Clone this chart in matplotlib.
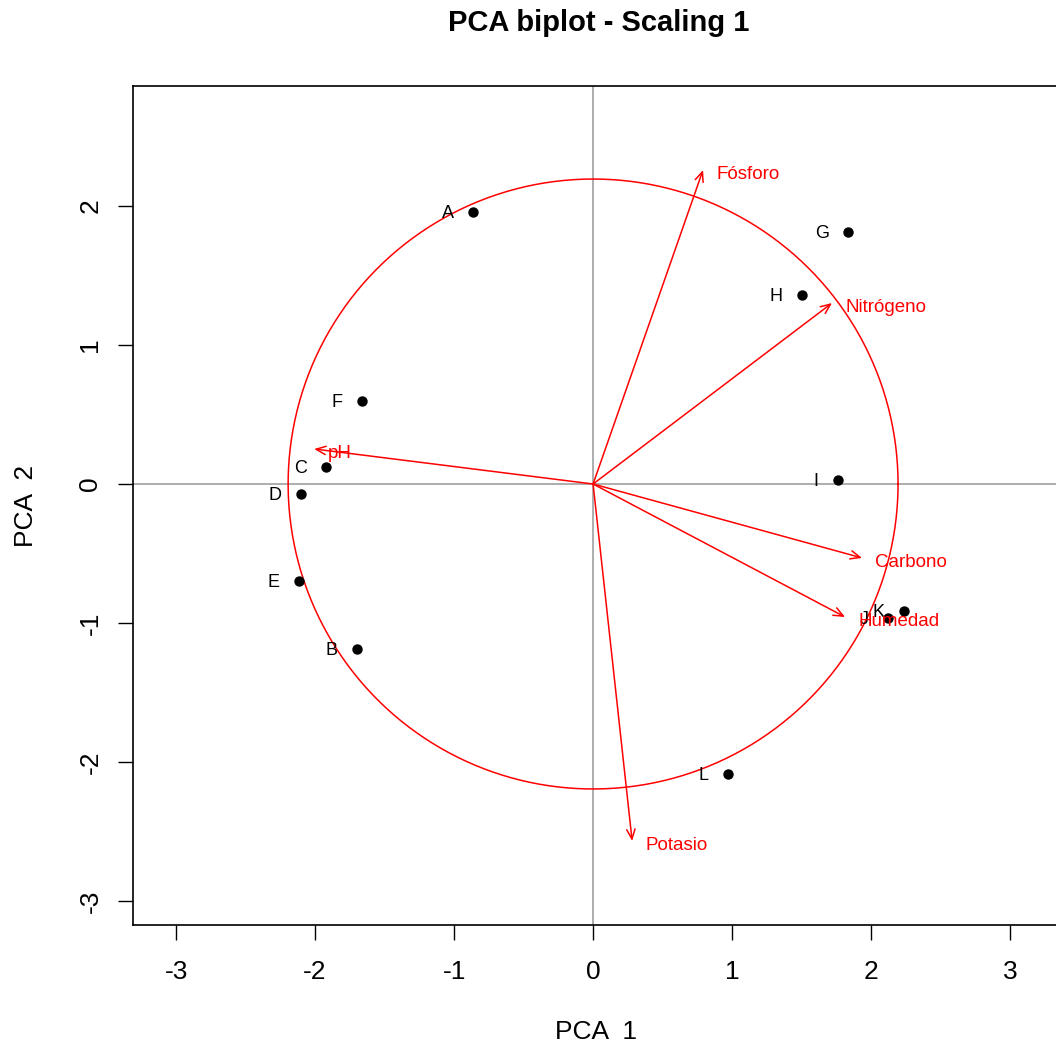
import numpy as np
import matplotlib
matplotlib.use("Agg")
import matplotlib.pyplot as plt

plt.rcParams["font.family"] = ["Liberation Sans", "DejaVu Sans"]

# site scores
sites = ["A", "B", "C", "D", "E", "F", "G", "H", "I", "J", "K", "L"]
site_x = [-0.863, -1.698, -1.921, -2.101, -2.115, -1.662, 1.835, 1.504, 1.763, 2.122, 2.237, 0.971]
site_y = [1.957, -1.187, 0.122, -0.072, -0.698, 0.597, 1.813, 1.360, 0.029, -0.964, -0.914, -2.086]

# variable loadings (arrow tips)
variables = ["Fósforo", "Nitrógeno", "pH", "Carbono", "Humedad", "Potasio"]
var_x = [0.791, 1.719, -2.007, 1.935, 1.813, 0.281]
var_y = [2.259, 1.302, 0.252, -0.532, -0.957, -2.568]

circle_radius = 2.194
ticks = [-3, -2, -1, 0, 1, 2, 3]

fig = plt.figure(figsize=(10.56, 10.52), dpi=100)
ax = fig.add_axes([133 / 1056, 127 / 1052, 927 / 1056, 839 / 1052])

ax.axhline(0, color="#a0a0a0", lw=1.2, zorder=1)
ax.axvline(0, color="#a0a0a0", lw=1.2, zorder=1)

t = np.linspace(0, 2 * np.pi, 400)
ax.plot(circle_radius * np.cos(t), circle_radius * np.sin(t), color="red", lw=1.1, zorder=2)

ax.scatter(site_x, site_y, s=42, color="black", zorder=4)
for name, x, y in zip(sites, site_x, site_y):
    ax.annotate(name, (x, y), xytext=(-14, -1), textcoords="offset points",
                ha="right", va="center", fontsize=13, color="black", zorder=5)

for name, x, y in zip(variables, var_x, var_y):
    ax.annotate("", xy=(x, y), xytext=(0, 0),
                arrowprops=dict(arrowstyle="->,head_length=0.7,head_width=0.3",
                                color="red", lw=1.1, shrinkA=0, shrinkB=0), zorder=3)
    ax.annotate(name, (x, y), xytext=(9.5, -3), textcoords="offset points",
                ha="left", va="center", fontsize=13.5, color="red", zorder=5)

ax.set_xticks(ticks)
ax.set_yticks(ticks)
ax.set_xticklabels([str(v) for v in ticks])
ax.set_yticklabels([str(v) for v in ticks], rotation=90, va="center")
ax.tick_params(direction="out", length=11, width=1, labelsize=19, pad=14)
ax.tick_params(axis="y", pad=11)
for sp in ax.spines.values():
    sp.set_linewidth(1.2)

# limits after ticks so the view is not widened
ax.set_xlim(-3.31, -3.31 + 927 / 139)
ax.set_ylim(-441 / 139, 398 / 139)

ax.set_xlabel("PCA  1", fontsize=19, labelpad=26)
ax.set_ylabel("PCA  2", fontsize=19, labelpad=29)
fig.text(0.567, 0.978, "PCA biplot - Scaling 1", ha="center", va="center",
         fontsize=21, fontweight="bold")

fig.savefig("out.png", dpi=100)
